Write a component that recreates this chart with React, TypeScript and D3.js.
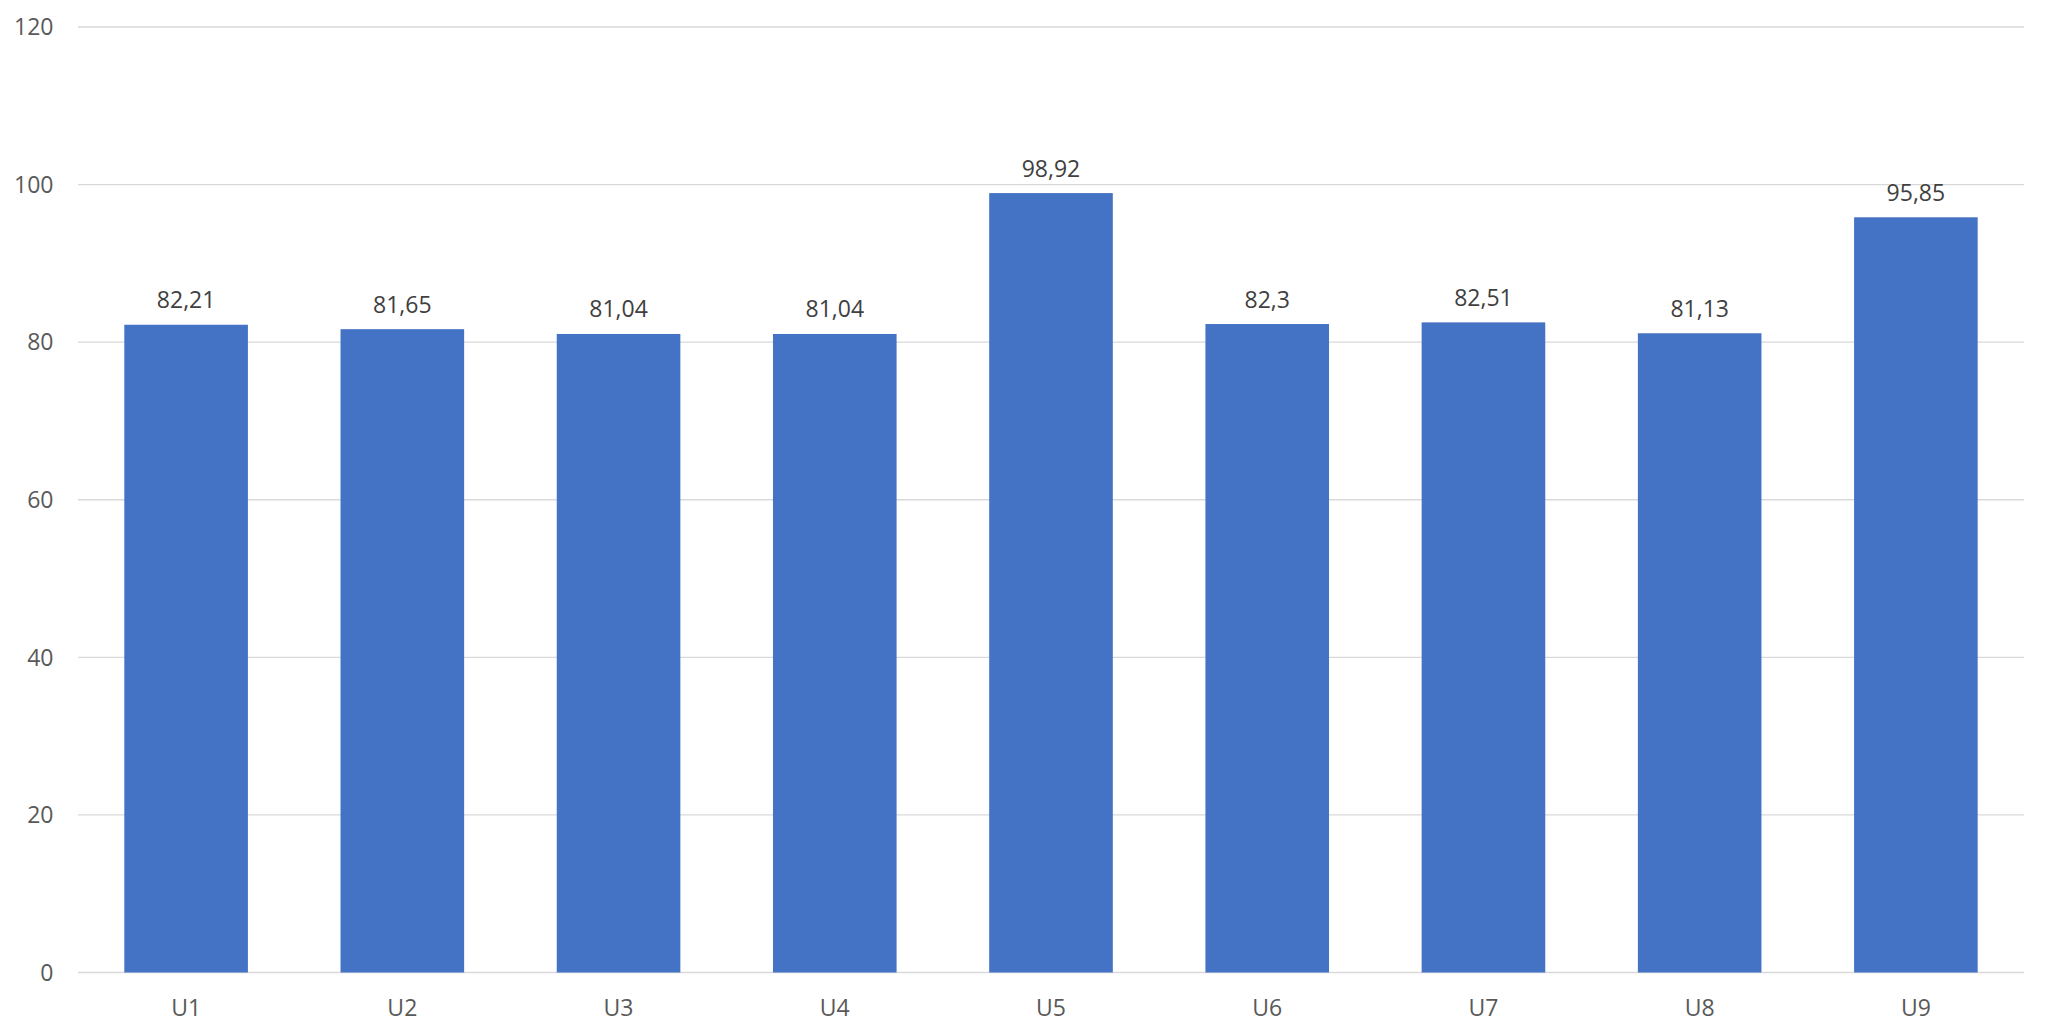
import React from "react";
import * as d3 from "d3";

const categories = ["U1", "U2", "U3", "U4", "U5", "U6", "U7", "U8", "U9"];
const values = [82.21, 81.65, 81.04, 81.04, 98.92, 82.3, 82.51, 81.13, 95.85];
const labels = ["82,21", "81,65", "81,04", "81,04", "98,92", "82,3", "82,51", "81,13", "95,85"];
const yTicks = [0, 20, 40, 60, 80, 100, 120];

const W = 2048;
const H = 1036;
const left = 78;
const right = 2024;
const top = 27;
const bottom = 972.5;
const font = "'Open Sans', 'Noto Sans', sans-serif";

export default function App() {
  const y = d3.scaleLinear().domain([0, 120]).range([bottom, top]);
  const band = d3.scaleBand<string>().domain(categories).range([left, right]);

  return (
    <svg width={W} height={H} style={{ position: "absolute", left: 0, top: 0, background: "#fff" }}>
      <rect x={0} y={0} width={W} height={H} fill="#fff" />
      {yTicks.map((t) => (
        <g key={t}>
          <line x1={left} x2={right} y1={y(t)} y2={y(t)} stroke="#d9d9d9" strokeWidth={1.4} />
          <text x={53.5} y={y(t)} dy="0.36em" textAnchor="end" fontFamily={font} fontSize={23} fill="#595959">
            {t}
          </text>
        </g>
      ))}
      {categories.map((c, i) => {
        const cx = (band(c) as number) + band.bandwidth() / 2;
        const bw = 123.6;
        return (
          <g key={c}>
            <rect x={cx - bw / 2} y={y(values[i])} width={bw} height={bottom - y(values[i])} fill="#4472c4" />
            <text x={cx} y={y(values[i]) - 16.5} textAnchor="middle" fontFamily={font} fontSize={23} fill="#404040">
              {labels[i]}
            </text>
            <text x={cx} y={1015.5} textAnchor="middle" fontFamily={font} fontSize={23} fill="#595959">
              {c}
            </text>
          </g>
        );
      })}
    </svg>
  );
}
